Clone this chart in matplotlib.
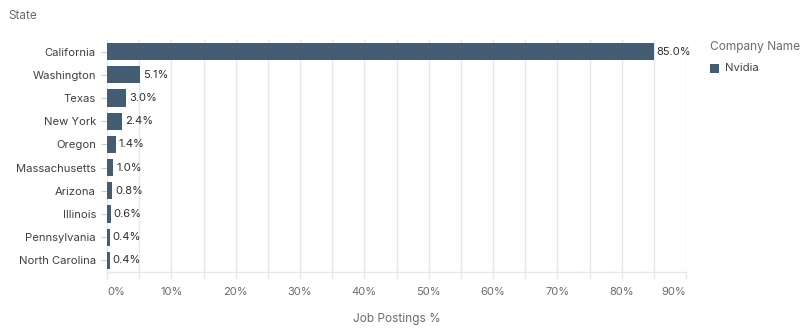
import matplotlib
matplotlib.use("Agg")
import matplotlib.pyplot as plt
from matplotlib.ticker import MultipleLocator, FuncFormatter
from matplotlib.patches import Rectangle

plt.rcParams['font.family'] = ['Inter', 'DejaVu Sans']

states = ["California", "Washington", "Texas", "New York", "Oregon",
          "Massachusetts", "Arizona", "Illinois", "Pennsylvania", "North Carolina"]
shares = [85.0, 5.1, 3.0, 2.4, 1.4, 1.0, 0.8, 0.6, 0.4, 0.4]
company = "Nvidia"

bar_color = "#455d72"
grid_color = "#e3e7ee"
label_grey = "#676b72"
value_color = "#2a2e33"

fig = plt.figure(figsize=(8.01, 3.28), dpi=100)
ax = fig.add_axes([107 / 801, 1 - 272 / 328, (686 - 107) / 801, (272 - 40) / 328])

ypos = list(range(len(states)))
ax.barh(ypos, shares, height=0.74, color=bar_color, zorder=3)
for y, v in zip(ypos, shares):
    ax.text(v + 0.45, y, f"{v:.1f}%", va="center", ha="left",
            fontsize=8, color=value_color, zorder=4)

ax.set_ylim(len(states) - 0.5, -0.5)
ax.set_yticks(ypos)
ax.set_yticklabels(states)
ax.set_xlim(0, 90)
ax.xaxis.set_major_locator(MultipleLocator(10))
ax.xaxis.set_minor_locator(MultipleLocator(5))
ax.xaxis.set_major_formatter(FuncFormatter(lambda v, p: f"{v:.0f}%"))

ax.grid(axis="x", which="both", color=grid_color, linewidth=1.0, zorder=0)
ax.tick_params(axis="x", which="both", length=5, color=grid_color, width=1.0,
               labelsize=8, labelcolor=label_grey, pad=6)
ax.tick_params(axis="y", length=4, color="#c9ccd2", width=0.8,
               labelsize=8.1, labelcolor="#3c4046", pad=4)

for s in ["top", "right", "left"]:
    ax.spines[s].set_visible(False)
ax.spines["bottom"].set_color(grid_color)
ax.spines["bottom"].set_linewidth(1.0)

# keep the end labels inside the plot span
fig.canvas.draw()
for lab in ax.get_xticklabels():
    if lab.get_text() == "0%":
        lab.set_ha("left")
    elif lab.get_text() == "90%":
        lab.set_ha("right")

ax.set_xlabel("Job Postings %", fontsize=8.5, color=label_grey, labelpad=11)

fig.text(8 / 801, 1 - 16 / 328, "State", fontsize=8.5, color=label_grey,
         ha="left", va="center")

# legend
fig.text(710 / 801, 1 - 47 / 328, "Company Name", fontsize=8.6, color=label_grey,
         ha="left", va="center")
fig.patches.append(Rectangle((710 / 801, 1 - 73 / 328), 9 / 801, 9 / 328,
                             transform=fig.transFigure, facecolor=bar_color,
                             edgecolor="none"))
fig.text(725 / 801, 1 - 68 / 328, company, fontsize=8.1, color="#3c4046",
         ha="left", va="center")

fig.savefig("out.png", dpi=100, facecolor="white")
